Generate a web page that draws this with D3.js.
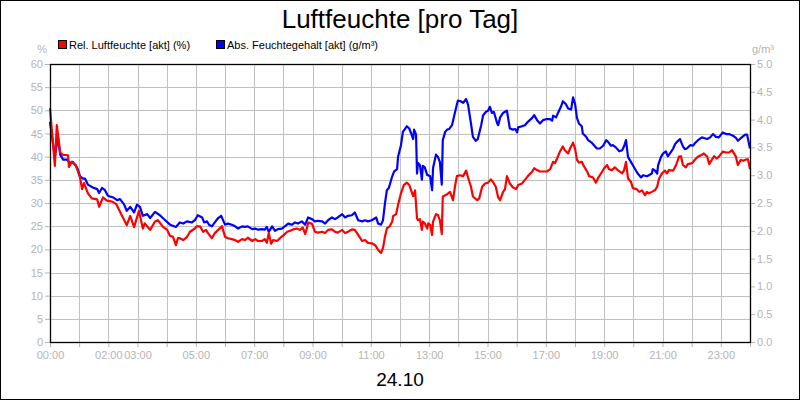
<!DOCTYPE html>
<html><head><meta charset="utf-8">
<script src="https://cdn.jsdelivr.net/npm/d3@7"></script>
<style>body{margin:0;background:#fff}svg{display:block}text{font-family:"Liberation Sans",Arial,sans-serif}</style>
</head><body><svg id="c" width="800" height="400"></svg>
<script>
const title = "Luftfeuchte [pro Tag]";
const dateLabel = "24.10";
const seriesNames = ["Rel. Luftfeuchte [akt] (%)", "Abs. Feuchtegehalt [akt] (g/m³)"];
const seriesColors = ["#ff0000", "#0000ff"];
const leftUnit = "%", rightUnit = "g/m³";
const xTickLabels = ["00:00","02:00","03:00","05:00","07:00","09:00","11:00","13:00","15:00","17:00","19:00","21:00","23:00"];
const leftTicks = [0,5,10,15,20,25,30,35,40,45,50,55,60];
const rightTicks = [0,0.5,1,1.5,2,2.5,3,3.5,4,4.5,5];

// minutes since 00:00
const relTime = [0,10,14,21,27,37,39,45,53,62,66,70,78,86,97,101,109,117,128,136,144,158,165,173,183,191,195,206,216,222,232,241,247,253,259,263,267,274,282,288,298,302,309,315,321,325,333,339,346,354,360,366,374,381,387,395,401,407,416,422,428,436,442,446,450,455,459,467,473,479,488,494,500,508,514,520,525,529,531,539,545,551,560,566,572,580,586,592,601,607,613,621,627,634,642,648,654,662,669,675,681,685,689,693,699,704,706,712,716,722,728,734,739,745,747,751,755,757,761,765,767,771,776,778,782,786,788,794,798,802,806,808,817,823,829,833,837,843,850,856,860,866,870,879,883,889,895,901,907,911,917,922,926,932,936,940,946,952,959,963,971,977,983,992,996,1002,1008,1014,1022,1029,1035,1039,1043,1049,1055,1059,1066,1070,1076,1080,1084,1088,1094,1098,1105,1109,1117,1123,1127,1136,1140,1146,1150,1156,1162,1168,1177,1181,1185,1189,1195,1199,1207,1212,1218,1224,1228,1232,1238,1245,1249,1253,1259,1265,1269,1273,1282,1288,1294,1298,1302,1308,1312,1321,1327,1333,1341,1345,1352,1356,1362,1366,1372,1376,1384,1391,1397,1403,1407,1411,1415,1421,1426,1432,1436,1440];
const relValue = [50.5,38,46.8,40.9,40.4,40.3,37.8,38.9,38.2,35.4,33,34.3,32.1,31,30.8,29.2,31.2,30.5,30.3,29.8,28.1,25.2,27.2,24.8,28.3,24.5,25.6,24.2,26.0,26.3,24.9,24.2,22.9,22.7,20.9,22.4,22.4,22.0,22.7,23.8,24.5,25.0,24.9,23.8,24.2,23.5,22.4,23.5,24.2,25.0,22.7,22.4,22.2,22.0,21.6,22.2,22.0,22.5,21.8,22.2,21.8,21.8,22.2,21.4,23.5,21.2,22.0,21.8,22.4,22.9,23.8,24.0,24.3,24.5,24.2,24.7,23.3,24.8,25.8,25.5,23.8,23.6,23.8,23.5,24.2,24.3,23.8,23.6,24.2,23.5,23.8,24.3,24.2,23.1,21.8,22.0,21.4,21.3,20.9,19.9,19.2,20.3,22.7,24.5,25.0,26.0,27.2,27.6,29.6,32.1,33.9,34.4,33.9,32.1,31.5,32.7,26.7,26.3,26.5,24.2,26.0,25.6,24.5,25.6,25.3,23.1,26.0,27.6,27.4,26.3,23.3,31.4,31.9,32.4,30.6,33.5,35.8,36.0,35.8,37.0,35.5,33.5,31.4,30.6,31.0,33.5,34.2,34.4,35.1,34.6,33.5,31.2,30.6,32.4,33.0,35.8,34.2,33.4,33.0,33.9,34.2,35.0,35.8,36.8,37.5,37.1,36.8,36.8,36.8,37.3,38.9,38.6,39.6,41.1,42.2,41.4,40.7,41.8,43.0,41.8,39.3,38.7,38.9,38.0,36.8,35.8,35.5,34.4,35.3,36.8,37.5,38.2,37.3,37.1,37.7,37.1,36.4,37.1,38.9,35.3,34.6,33.2,33.0,32.4,32.7,31.7,32.4,32.1,32.4,32.8,33.5,35.3,36.4,37.0,36.4,37.1,37.0,38.2,40.0,40.1,38.2,37.7,38.4,38.6,39.4,40.0,40.4,40.7,40.0,38.4,39.4,40.1,39.6,40.0,41.1,40.9,40.9,41.4,40.7,40.0,38.2,39.3,39.1,39.4,39.4,37.3];

const absTime = [0,10,16,21,27,35,41,47,56,62,68,72,78,88,97,101,107,113,119,130,138,144,152,158,165,173,179,185,191,200,206,216,226,237,247,259,267,274,282,292,298,304,313,317,323,327,333,339,346,352,360,366,374,381,387,395,401,407,416,422,428,436,442,446,450,457,463,469,477,483,490,498,504,510,518,525,531,539,545,551,560,566,572,580,586,592,601,607,613,621,627,634,642,648,654,662,671,675,681,685,689,693,697,704,708,714,716,722,726,734,739,743,747,749,753,755,757,761,765,767,771,776,778,782,786,788,794,798,802,806,808,813,817,821,827,831,837,839,845,850,856,860,866,870,876,880,887,891,897,901,905,909,913,920,922,926,932,936,940,946,952,957,961,963,971,977,983,992,996,1002,1008,1014,1022,1029,1033,1035,1041,1045,1051,1055,1061,1066,1072,1076,1080,1084,1088,1094,1096,1103,1107,1115,1119,1125,1131,1138,1144,1148,1154,1158,1164,1171,1177,1181,1185,1189,1195,1199,1205,1209,1216,1220,1228,1232,1238,1240,1245,1249,1251,1257,1261,1267,1271,1275,1282,1286,1290,1296,1302,1306,1310,1317,1323,1327,1333,1341,1345,1352,1358,1364,1370,1376,1384,1391,1397,1405,1411,1415,1423,1430,1434,1440];
const absValue = [3.96,3.33,3.69,3.37,3.28,3.28,3.22,3.24,3.13,2.98,2.94,2.94,2.83,2.78,2.75,2.68,2.77,2.73,2.63,2.60,2.55,2.57,2.48,2.36,2.43,2.33,2.47,2.43,2.27,2.30,2.23,2.34,2.28,2.19,2.11,2.07,2.15,2.13,2.17,2.15,2.19,2.28,2.24,2.15,2.17,2.11,2.08,2.15,2.23,2.27,2.11,2.13,2.11,2.08,2.04,2.08,2.07,2.08,2.03,2.04,2.02,2.03,2.02,2.07,1.98,2.08,2.00,2.03,2.04,2.08,2.13,2.11,2.15,2.13,2.17,2.11,2.24,2.21,2.17,2.18,2.17,2.13,2.19,2.24,2.21,2.24,2.30,2.24,2.27,2.28,2.33,2.19,2.17,2.19,2.17,2.19,2.24,2.13,2.11,2.19,2.49,2.73,2.77,2.98,3.07,3.11,3.33,3.54,3.78,3.88,3.84,3.75,3.65,3.82,3.73,3.03,3.22,3.18,2.92,3.17,3.14,3.00,3.00,2.98,2.73,3.13,3.37,3.33,3.24,2.83,3.63,3.78,3.82,3.83,3.90,4.05,4.27,4.34,4.33,4.30,4.37,4.27,3.93,3.69,3.62,3.65,3.90,4.08,4.14,4.16,4.23,4.12,4.14,3.93,3.90,4.04,4.12,4.14,4.16,3.84,3.82,3.83,3.77,3.86,3.88,3.90,3.96,4.03,4.08,3.99,3.93,3.99,4.01,4.01,3.98,4.07,4.04,4.12,4.23,4.33,4.28,4.20,4.18,4.40,4.29,4.03,3.93,3.88,3.75,3.69,3.63,3.58,3.54,3.48,3.48,3.53,3.63,3.60,3.53,3.54,3.50,3.43,3.45,3.52,3.63,3.33,3.24,3.18,3.09,3.03,2.96,3.00,2.98,3.00,3.03,3.11,3.08,3.03,3.18,3.33,3.39,3.43,3.34,3.39,3.48,3.56,3.60,3.65,3.52,3.47,3.48,3.54,3.53,3.58,3.63,3.68,3.67,3.65,3.68,3.74,3.69,3.68,3.77,3.74,3.74,3.71,3.67,3.62,3.68,3.73,3.73,3.48];

const svg = d3.select("#c");
const L = 50, R = 750, T = 64, B = 342;
const x = d3.scaleLinear().domain([0, 1440]).range([L, R]);
const yL = d3.scaleLinear().domain([0, 60]).range([B, T]);
const yR = d3.scaleLinear().domain([0, 5]).range([B, T]);
const gray = "#b4b4b4", grid = "#c0c0c0";

svg.append("rect").attr("x",0.5).attr("y",0.5).attr("width",799).attr("height",399).attr("fill","#fff").attr("stroke","#000");

// grid
const hours = d3.range(1, 24);
svg.append("g").selectAll("line").data(hours).join("line")
  .attr("x1", d => Math.round(x(d*60))+0.5).attr("x2", d => Math.round(x(d*60))+0.5)
  .attr("y1", T).attr("y2", B).attr("stroke", grid);
svg.append("g").selectAll("line").data(leftTicks.slice(1, -1)).join("line")
  .attr("x1", L).attr("x2", R).attr("y1", d => Math.round(yL(d))+0.5).attr("y2", d => Math.round(yL(d))+0.5).attr("stroke", grid);

// axes
const gl = svg.append("g").attr("transform", `translate(${L},0)`)
  .call(d3.axisLeft(yL).tickValues(leftTicks).tickSize(5).tickPadding(2).tickFormat(d3.format("d")));
const gr = svg.append("g").attr("transform", `translate(${R},0)`)
  .call(d3.axisRight(yR).tickValues(rightTicks).tickSize(5).tickPadding(2).tickFormat(d3.format(".1f")));
const xt = xTickLabels.map(s => +s.slice(0,2) * 60);
const gb = svg.append("g").attr("transform", `translate(0,${B})`)
  .call(d3.axisBottom(x).tickValues(d3.range(0, 1441, 60)).tickSize(5).tickPadding(4)
    .tickFormat(d => { const i = xt.indexOf(d); return i >= 0 ? xTickLabels[i] : ""; }));
[gl, gr, gb].forEach(g => {
  g.select(".domain").remove();
  g.selectAll("line").attr("stroke", gray);
  g.selectAll("text").attr("fill", gray).attr("font-size", "11px").attr("font-family", "Liberation Sans, Arial, sans-serif");
});

// lines
const line = (ys) => d3.line().x(d => x(d[0])).y(d => ys(d[1]));
svg.append("path").datum(d3.zip(absTime, absValue)).attr("d", line(yR))
  .attr("fill","none").attr("stroke", seriesColors[1]).attr("stroke-width", 2.2).attr("stroke-linejoin","round");
svg.append("path").datum(d3.zip(relTime, relValue)).attr("d", line(yL))
  .attr("fill","none").attr("stroke", seriesColors[0]).attr("stroke-width", 2.2).attr("stroke-linejoin","round");

// frame
svg.append("rect").attr("x", L+0.5).attr("y", T+0.5).attr("width", R-L).attr("height", B-T)
  .attr("fill","none").attr("stroke","#000").attr("stroke-width",1.3);

// texts
svg.append("text").attr("x", 400).attr("y", 28).attr("text-anchor","middle").attr("font-size","26px").text(title);
svg.append("text").attr("x", 400).attr("y", 386).attr("text-anchor","middle").attr("font-size","19px").text(dateLabel);
svg.append("text").attr("x", 47).attr("y", 53).attr("text-anchor","end").attr("font-size","11px").attr("fill",gray).text(leftUnit);
svg.append("text").attr("x", 752).attr("y", 53).attr("font-size","11px").attr("fill",gray).text(rightUnit);

// legend
const legX = [58, 216];
seriesNames.forEach((n, i) => {
  svg.append("rect").attr("x", legX[i]+0.5).attr("y", 40.5).attr("width", 8).attr("height", 8)
    .attr("fill", seriesColors[i]).attr("stroke", "#000");
  svg.append("text").attr("x", legX[i] + 11).attr("y", 48.5).attr("font-size", "11px").text(n);
});
</script></body></html>
